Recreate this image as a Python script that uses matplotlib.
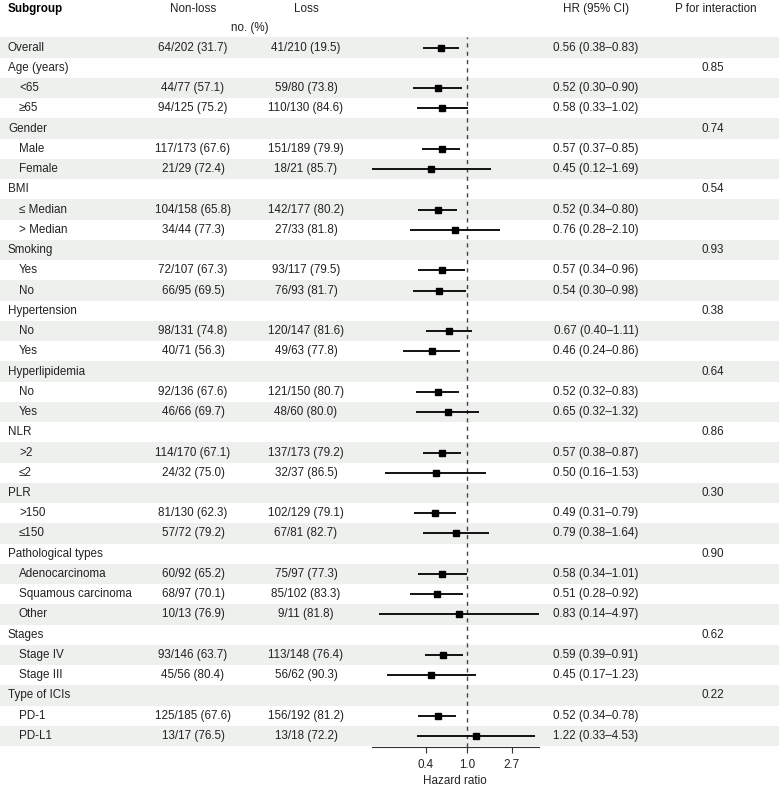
import numpy as np
import matplotlib
matplotlib.use("Agg")
import matplotlib.pyplot as plt

plt.rcParams['font.family'] = ['Liberation Sans', 'DejaVu Sans']

# ---- data ----
labels = ["Overall", "Age (years)", "<65", "≥65", "Gender", "Male", "Female",
          "BMI", "≤ Median", "> Median", "Smoking", "Yes", "No",
          "Hypertension", "No", "Yes", "Hyperlipidemia", "No", "Yes",
          "NLR", ">2", "≤2", "PLR", ">150", "≤150",
          "Pathological types", "Adenocarcinoma", "Squamous carcinoma", "Other",
          "Stages", "Stage IV", "Stage III", "Type of ICIs", "PD-1", "PD-L1"]
indent = [0, 0, 1, 1, 0, 1, 1, 0, 1, 1, 0, 1, 1, 0, 1, 1, 0, 1, 1,
          0, 1, 1, 0, 1, 1, 0, 1, 1, 1, 0, 1, 1, 0, 1, 1]
nonloss = ["64/202 (31.7)", "", "44/77 (57.1)", "94/125 (75.2)", "", "117/173 (67.6)", "21/29 (72.4)",
           "", "104/158 (65.8)", "34/44 (77.3)", "", "72/107 (67.3)", "66/95 (69.5)",
           "", "98/131 (74.8)", "40/71 (56.3)", "", "92/136 (67.6)", "46/66 (69.7)",
           "", "114/170 (67.1)", "24/32 (75.0)", "", "81/130 (62.3)", "57/72 (79.2)",
           "", "60/92 (65.2)", "68/97 (70.1)", "10/13 (76.9)",
           "", "93/146 (63.7)", "45/56 (80.4)", "", "125/185 (67.6)", "13/17 (76.5)"]
loss = ["41/210 (19.5)", "", "59/80 (73.8)", "110/130 (84.6)", "", "151/189 (79.9)", "18/21 (85.7)",
        "", "142/177 (80.2)", "27/33 (81.8)", "", "93/117 (79.5)", "76/93 (81.7)",
        "", "120/147 (81.6)", "49/63 (77.8)", "", "121/150 (80.7)", "48/60 (80.0)",
        "", "137/173 (79.2)", "32/37 (86.5)", "", "102/129 (79.1)", "67/81 (82.7)",
        "", "75/97 (77.3)", "85/102 (83.3)", "9/11 (81.8)",
        "", "113/148 (76.4)", "56/62 (90.3)", "", "156/192 (81.2)", "13/18 (72.2)"]
hr = [0.56, None, 0.52, 0.58, None, 0.57, 0.45, None, 0.52, 0.76, None, 0.57, 0.54,
      None, 0.67, 0.46, None, 0.52, 0.65, None, 0.57, 0.50, None, 0.49, 0.79,
      None, 0.58, 0.51, 0.83, None, 0.59, 0.45, None, 0.52, 1.22]
lo = [0.38, None, 0.30, 0.33, None, 0.37, 0.12, None, 0.34, 0.28, None, 0.34, 0.30,
      None, 0.40, 0.24, None, 0.32, 0.32, None, 0.38, 0.16, None, 0.31, 0.38,
      None, 0.34, 0.28, 0.14, None, 0.39, 0.17, None, 0.34, 0.33]
hi = [0.83, None, 0.90, 1.02, None, 0.85, 1.69, None, 0.80, 2.10, None, 0.96, 0.98,
      None, 1.11, 0.86, None, 0.83, 1.32, None, 0.87, 1.53, None, 0.79, 1.64,
      None, 1.01, 0.92, 4.97, None, 0.91, 1.23, None, 0.78, 4.53]
pvals = ["", "0.85", "", "", "0.74", "", "", "0.54", "", "", "0.93", "", "",
         "0.38", "", "", "0.64", "", "", "0.86", "", "", "0.30", "", "",
         "0.90", "", "", "", "0.62", "", "", "0.22", "", ""]
xticks = [0.4, 1.0, 2.7]

W, H = 779, 788
fig = plt.figure(figsize=(W / 100, H / 100), dpi=100)

n = len(labels)
ybot = 34.53
ytop = -0.5
bottom = (H - 746.7) / H
height = 0.9001

tc = "#222222"
fs = 8.4

# background / table axes
bg = fig.add_axes([0, bottom, 1, height])
bg.set_xlim(0, W)
bg.set_ylim(ybot, ytop)
bg.axis("off")
for i in range(n):
    if i % 2 == 0:
        bg.axhspan(i - 0.5, i + 0.5, color="#eef0ee", lw=0, zorder=0)
    x0 = 8 if indent[i] == 0 else 19
    bg.text(x0, i, labels[i], ha="left", va="center", fontsize=fs, color=tc)
    bg.text(193, i, nonloss[i], ha="center", va="center", fontsize=fs, color=tc)
    bg.text(306, i, loss[i], ha="center", va="center", fontsize=fs, color=tc)
    if hr[i] is not None:
        bg.text(596, i, f"{hr[i]:.2f} ({lo[i]:.2f}\u2013{hi[i]:.2f})",
                ha="center", va="center", fontsize=fs, color=tc)
    bg.text(713, i, pvals[i], ha="center", va="center", fontsize=fs, color=tc)

hy = -1.89
bg.text(8, hy, "Subgroup", ha="left", va="center", fontsize=fs, fontweight="bold", color="black", clip_on=False)
bg.text(193, hy, "Non-loss", ha="center", va="center", fontsize=fs, color=tc, clip_on=False)
bg.text(306, hy, "Loss", ha="center", va="center", fontsize=fs, color=tc, clip_on=False)
bg.text(250, -0.98, "no. (%)", ha="center", va="center", fontsize=fs, color=tc, clip_on=False)
bg.text(596, hy, "HR (95% CI)", ha="center", va="center", fontsize=fs, color=tc, clip_on=False)
bg.text(716, hy, "P for interaction", ha="center", va="center", fontsize=fs, color=tc, clip_on=False)

# forest axes
ax = fig.add_axes([371.7 / W, bottom, (539 - 371.7) / W, height])
ax.patch.set_alpha(0)
ax.set_xscale("log")
ax.set_xlim(min(v for v in lo if v), max(v for v in hi if v))
ax.set_ylim(ybot, ytop)
for s in ["top", "left", "right"]:
    ax.spines[s].set_visible(False)
ax.spines["bottom"].set_color("#333333")
ax.spines["bottom"].set_linewidth(0.8)
ax.set_yticks([])
ax.set_xticks(xticks)
ax.set_xticklabels([f"{t:.1f}" for t in xticks])
ax.xaxis.set_minor_locator(matplotlib.ticker.NullLocator())
ax.tick_params(axis="x", length=4, width=0.8, color="#333333", labelsize=fs, labelcolor=tc, pad=5)
ax.set_xlabel("Hazard ratio", fontsize=fs, color=tc, labelpad=3)

ax.axvline(1.0, color="#444444", lw=1.0, ls=(0, (3, 3)), zorder=1)
for i in range(n):
    if hr[i] is None:
        continue
    ax.plot([lo[i], hi[i]], [i, i], color="black", lw=1.3, solid_capstyle="butt", zorder=2)
    ax.plot(hr[i], i, marker="s", ms=4.5, color="black", zorder=3)

fig.savefig("out.png", dpi=100)
